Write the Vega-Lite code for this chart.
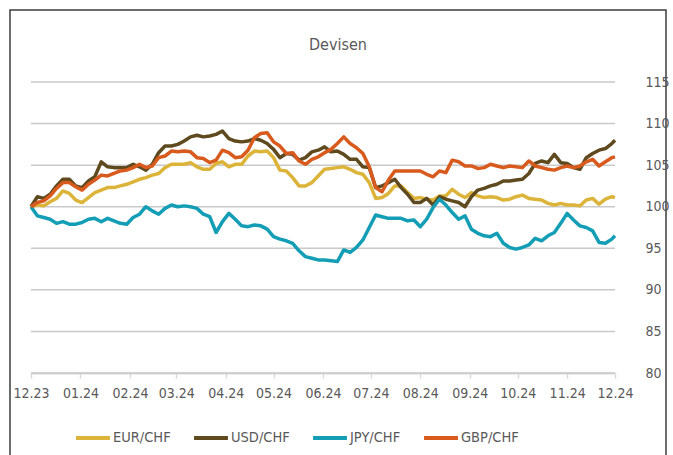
{
  "$schema": "https://vega.github.io/schema/vega-lite/v6.json",
  "width": 656,
  "height": 460,
  "autosize": {"type": "none"},
  "padding": {"left": 10, "top": 10, "right": 7, "bottom": 0},
  "background": "white",
  "config": {
    "font": "DejaVu Sans Condensed, DejaVu Sans, sans-serif",
    "view": {"stroke": "#3c3c3c", "strokeWidth": 1.5}
  },
  "title": {"text": "Devisen", "fontSize": 16, "fontWeight": "normal", "color": "#595959", "anchor": "middle", "baseline": "alphabetic", "offset": -56},
  "datasets": {
    "grid": [{"g":80},{"g":85},{"g":90},{"g":95},{"g":100},{"g":105},{"g":110},{"g":115}],
    "fx": [
{"d":"2023-12-01","s":"EUR/CHF","v":100.0},{"d":"2023-12-05","s":"EUR/CHF","v":100.2},{"d":"2023-12-09","s":"EUR/CHF","v":100.1},{"d":"2023-12-13","s":"EUR/CHF","v":100.6},{"d":"2023-12-17","s":"EUR/CHF","v":101.0},{"d":"2023-12-21","s":"EUR/CHF","v":101.9},{"d":"2023-12-25","s":"EUR/CHF","v":101.6},{"d":"2023-12-29","s":"EUR/CHF","v":100.8},{"d":"2024-01-02","s":"EUR/CHF","v":100.5},{"d":"2024-01-06","s":"EUR/CHF","v":101.1},
{"d":"2024-01-10","s":"EUR/CHF","v":101.7},{"d":"2024-01-14","s":"EUR/CHF","v":102.0},{"d":"2024-01-18","s":"EUR/CHF","v":102.3},{"d":"2024-01-22","s":"EUR/CHF","v":102.3},{"d":"2024-01-26","s":"EUR/CHF","v":102.5},{"d":"2024-01-30","s":"EUR/CHF","v":102.7},{"d":"2024-02-03","s":"EUR/CHF","v":103.0},{"d":"2024-02-07","s":"EUR/CHF","v":103.3},{"d":"2024-02-11","s":"EUR/CHF","v":103.5},{"d":"2024-02-15","s":"EUR/CHF","v":103.8},
{"d":"2024-02-19","s":"EUR/CHF","v":104.0},{"d":"2024-02-23","s":"EUR/CHF","v":104.7},{"d":"2024-02-27","s":"EUR/CHF","v":105.1},{"d":"2024-03-02","s":"EUR/CHF","v":105.1},{"d":"2024-03-06","s":"EUR/CHF","v":105.1},{"d":"2024-03-10","s":"EUR/CHF","v":105.3},{"d":"2024-03-14","s":"EUR/CHF","v":104.8},{"d":"2024-03-18","s":"EUR/CHF","v":104.5},{"d":"2024-03-22","s":"EUR/CHF","v":104.5},{"d":"2024-03-26","s":"EUR/CHF","v":105.2},
{"d":"2024-03-30","s":"EUR/CHF","v":105.4},{"d":"2024-04-03","s":"EUR/CHF","v":104.8},{"d":"2024-04-07","s":"EUR/CHF","v":105.1},{"d":"2024-04-11","s":"EUR/CHF","v":105.1},{"d":"2024-04-15","s":"EUR/CHF","v":106.1},{"d":"2024-04-19","s":"EUR/CHF","v":106.7},{"d":"2024-04-23","s":"EUR/CHF","v":106.6},{"d":"2024-04-27","s":"EUR/CHF","v":106.7},{"d":"2024-05-01","s":"EUR/CHF","v":105.9},{"d":"2024-05-05","s":"EUR/CHF","v":104.4},
{"d":"2024-05-09","s":"EUR/CHF","v":104.3},{"d":"2024-05-13","s":"EUR/CHF","v":103.5},{"d":"2024-05-17","s":"EUR/CHF","v":102.5},{"d":"2024-05-21","s":"EUR/CHF","v":102.5},{"d":"2024-05-25","s":"EUR/CHF","v":102.9},{"d":"2024-05-29","s":"EUR/CHF","v":103.7},{"d":"2024-06-02","s":"EUR/CHF","v":104.5},{"d":"2024-06-06","s":"EUR/CHF","v":104.6},{"d":"2024-06-10","s":"EUR/CHF","v":104.7},{"d":"2024-06-14","s":"EUR/CHF","v":104.8},
{"d":"2024-06-18","s":"EUR/CHF","v":104.5},{"d":"2024-06-22","s":"EUR/CHF","v":104.1},{"d":"2024-06-26","s":"EUR/CHF","v":103.9},{"d":"2024-06-30","s":"EUR/CHF","v":102.9},{"d":"2024-07-04","s":"EUR/CHF","v":101.0},{"d":"2024-07-08","s":"EUR/CHF","v":101.1},{"d":"2024-07-12","s":"EUR/CHF","v":101.6},{"d":"2024-07-16","s":"EUR/CHF","v":102.5},{"d":"2024-07-20","s":"EUR/CHF","v":102.5},{"d":"2024-07-24","s":"EUR/CHF","v":101.7},
{"d":"2024-07-28","s":"EUR/CHF","v":101.0},{"d":"2024-08-01","s":"EUR/CHF","v":101.1},{"d":"2024-08-05","s":"EUR/CHF","v":100.9},{"d":"2024-08-09","s":"EUR/CHF","v":100.8},{"d":"2024-08-13","s":"EUR/CHF","v":101.3},{"d":"2024-08-17","s":"EUR/CHF","v":101.3},{"d":"2024-08-21","s":"EUR/CHF","v":102.1},{"d":"2024-08-25","s":"EUR/CHF","v":101.5},{"d":"2024-08-29","s":"EUR/CHF","v":101.1},{"d":"2024-09-02","s":"EUR/CHF","v":101.7},
{"d":"2024-09-06","s":"EUR/CHF","v":101.3},{"d":"2024-09-10","s":"EUR/CHF","v":101.1},{"d":"2024-09-14","s":"EUR/CHF","v":101.2},{"d":"2024-09-18","s":"EUR/CHF","v":101.1},{"d":"2024-09-22","s":"EUR/CHF","v":100.8},{"d":"2024-09-26","s":"EUR/CHF","v":100.9},{"d":"2024-09-30","s":"EUR/CHF","v":101.2},{"d":"2024-10-04","s":"EUR/CHF","v":101.4},{"d":"2024-10-08","s":"EUR/CHF","v":101.0},{"d":"2024-10-12","s":"EUR/CHF","v":100.9},
{"d":"2024-10-16","s":"EUR/CHF","v":100.8},{"d":"2024-10-20","s":"EUR/CHF","v":100.4},{"d":"2024-10-24","s":"EUR/CHF","v":100.2},{"d":"2024-10-28","s":"EUR/CHF","v":100.4},{"d":"2024-11-01","s":"EUR/CHF","v":100.2},{"d":"2024-11-05","s":"EUR/CHF","v":100.2},{"d":"2024-11-09","s":"EUR/CHF","v":100.1},{"d":"2024-11-13","s":"EUR/CHF","v":100.8},{"d":"2024-11-17","s":"EUR/CHF","v":101.0},{"d":"2024-11-21","s":"EUR/CHF","v":100.3},
{"d":"2024-11-25","s":"EUR/CHF","v":100.9},{"d":"2024-11-29","s":"EUR/CHF","v":101.2},{"d":"2024-12-01","s":"EUR/CHF","v":101.1},
{"d":"2023-12-01","s":"USD/CHF","v":100.0},{"d":"2023-12-05","s":"USD/CHF","v":101.2},{"d":"2023-12-09","s":"USD/CHF","v":101.0},{"d":"2023-12-13","s":"USD/CHF","v":101.5},{"d":"2023-12-17","s":"USD/CHF","v":102.5},{"d":"2023-12-21","s":"USD/CHF","v":103.3},{"d":"2023-12-25","s":"USD/CHF","v":103.3},{"d":"2023-12-29","s":"USD/CHF","v":102.5},{"d":"2024-01-02","s":"USD/CHF","v":102.3},{"d":"2024-01-06","s":"USD/CHF","v":103.1},
{"d":"2024-01-10","s":"USD/CHF","v":103.6},{"d":"2024-01-14","s":"USD/CHF","v":105.4},{"d":"2024-01-18","s":"USD/CHF","v":104.8},{"d":"2024-01-22","s":"USD/CHF","v":104.7},{"d":"2024-01-26","s":"USD/CHF","v":104.7},{"d":"2024-01-30","s":"USD/CHF","v":104.7},{"d":"2024-02-03","s":"USD/CHF","v":105.1},{"d":"2024-02-07","s":"USD/CHF","v":104.8},{"d":"2024-02-11","s":"USD/CHF","v":104.4},{"d":"2024-02-15","s":"USD/CHF","v":105.1},
{"d":"2024-02-19","s":"USD/CHF","v":106.5},{"d":"2024-02-23","s":"USD/CHF","v":107.3},{"d":"2024-02-27","s":"USD/CHF","v":107.3},{"d":"2024-03-02","s":"USD/CHF","v":107.5},{"d":"2024-03-06","s":"USD/CHF","v":107.9},{"d":"2024-03-10","s":"USD/CHF","v":108.4},{"d":"2024-03-14","s":"USD/CHF","v":108.6},{"d":"2024-03-18","s":"USD/CHF","v":108.4},{"d":"2024-03-22","s":"USD/CHF","v":108.5},{"d":"2024-03-26","s":"USD/CHF","v":108.7},
{"d":"2024-03-30","s":"USD/CHF","v":109.1},{"d":"2024-04-03","s":"USD/CHF","v":108.2},{"d":"2024-04-07","s":"USD/CHF","v":107.9},{"d":"2024-04-11","s":"USD/CHF","v":107.8},{"d":"2024-04-15","s":"USD/CHF","v":107.9},{"d":"2024-04-19","s":"USD/CHF","v":108.2},{"d":"2024-04-23","s":"USD/CHF","v":108.0},{"d":"2024-04-27","s":"USD/CHF","v":107.6},{"d":"2024-05-01","s":"USD/CHF","v":106.9},{"d":"2024-05-05","s":"USD/CHF","v":105.9},
{"d":"2024-05-09","s":"USD/CHF","v":106.4},{"d":"2024-05-13","s":"USD/CHF","v":106.3},{"d":"2024-05-17","s":"USD/CHF","v":105.6},{"d":"2024-05-21","s":"USD/CHF","v":105.9},{"d":"2024-05-25","s":"USD/CHF","v":106.6},{"d":"2024-05-29","s":"USD/CHF","v":106.8},{"d":"2024-06-02","s":"USD/CHF","v":107.2},{"d":"2024-06-06","s":"USD/CHF","v":106.6},{"d":"2024-06-10","s":"USD/CHF","v":106.7},{"d":"2024-06-14","s":"USD/CHF","v":106.3},
{"d":"2024-06-18","s":"USD/CHF","v":105.7},{"d":"2024-06-22","s":"USD/CHF","v":105.7},{"d":"2024-06-26","s":"USD/CHF","v":104.8},{"d":"2024-06-30","s":"USD/CHF","v":104.7},{"d":"2024-07-04","s":"USD/CHF","v":102.3},{"d":"2024-07-08","s":"USD/CHF","v":102.5},{"d":"2024-07-12","s":"USD/CHF","v":102.9},{"d":"2024-07-16","s":"USD/CHF","v":103.3},{"d":"2024-07-20","s":"USD/CHF","v":102.3},{"d":"2024-07-24","s":"USD/CHF","v":101.5},
{"d":"2024-07-28","s":"USD/CHF","v":100.5},{"d":"2024-08-01","s":"USD/CHF","v":100.5},{"d":"2024-08-05","s":"USD/CHF","v":101.0},{"d":"2024-08-09","s":"USD/CHF","v":100.2},{"d":"2024-08-13","s":"USD/CHF","v":101.2},{"d":"2024-08-17","s":"USD/CHF","v":100.9},{"d":"2024-08-21","s":"USD/CHF","v":100.7},{"d":"2024-08-25","s":"USD/CHF","v":100.5},{"d":"2024-08-29","s":"USD/CHF","v":100.0},{"d":"2024-09-02","s":"USD/CHF","v":101.2},
{"d":"2024-09-06","s":"USD/CHF","v":102.0},{"d":"2024-09-10","s":"USD/CHF","v":102.2},{"d":"2024-09-14","s":"USD/CHF","v":102.5},{"d":"2024-09-18","s":"USD/CHF","v":102.7},{"d":"2024-09-22","s":"USD/CHF","v":103.1},{"d":"2024-09-26","s":"USD/CHF","v":103.1},{"d":"2024-09-30","s":"USD/CHF","v":103.2},{"d":"2024-10-04","s":"USD/CHF","v":103.3},{"d":"2024-10-08","s":"USD/CHF","v":104.0},{"d":"2024-10-12","s":"USD/CHF","v":105.2},
{"d":"2024-10-16","s":"USD/CHF","v":105.5},{"d":"2024-10-20","s":"USD/CHF","v":105.3},{"d":"2024-10-24","s":"USD/CHF","v":106.3},{"d":"2024-10-28","s":"USD/CHF","v":105.3},{"d":"2024-11-01","s":"USD/CHF","v":105.2},{"d":"2024-11-05","s":"USD/CHF","v":104.7},{"d":"2024-11-09","s":"USD/CHF","v":104.5},{"d":"2024-11-13","s":"USD/CHF","v":105.9},{"d":"2024-11-17","s":"USD/CHF","v":106.4},{"d":"2024-11-21","s":"USD/CHF","v":106.8},
{"d":"2024-11-25","s":"USD/CHF","v":107.0},{"d":"2024-11-29","s":"USD/CHF","v":107.6},{"d":"2024-12-01","s":"USD/CHF","v":108.0},
{"d":"2023-12-01","s":"JPY/CHF","v":100.0},{"d":"2023-12-05","s":"JPY/CHF","v":98.9},{"d":"2023-12-09","s":"JPY/CHF","v":98.7},{"d":"2023-12-13","s":"JPY/CHF","v":98.5},{"d":"2023-12-17","s":"JPY/CHF","v":98.0},{"d":"2023-12-21","s":"JPY/CHF","v":98.2},{"d":"2023-12-25","s":"JPY/CHF","v":97.9},{"d":"2023-12-29","s":"JPY/CHF","v":97.9},{"d":"2024-01-02","s":"JPY/CHF","v":98.1},{"d":"2024-01-06","s":"JPY/CHF","v":98.5},
{"d":"2024-01-10","s":"JPY/CHF","v":98.6},{"d":"2024-01-14","s":"JPY/CHF","v":98.2},{"d":"2024-01-18","s":"JPY/CHF","v":98.6},{"d":"2024-01-22","s":"JPY/CHF","v":98.3},{"d":"2024-01-26","s":"JPY/CHF","v":98.0},{"d":"2024-01-30","s":"JPY/CHF","v":97.9},{"d":"2024-02-03","s":"JPY/CHF","v":98.7},{"d":"2024-02-07","s":"JPY/CHF","v":99.1},{"d":"2024-02-11","s":"JPY/CHF","v":100.0},{"d":"2024-02-15","s":"JPY/CHF","v":99.5},
{"d":"2024-02-19","s":"JPY/CHF","v":99.1},{"d":"2024-02-23","s":"JPY/CHF","v":99.8},{"d":"2024-02-27","s":"JPY/CHF","v":100.2},{"d":"2024-03-02","s":"JPY/CHF","v":100.0},{"d":"2024-03-06","s":"JPY/CHF","v":100.1},{"d":"2024-03-10","s":"JPY/CHF","v":100.0},{"d":"2024-03-14","s":"JPY/CHF","v":99.8},{"d":"2024-03-18","s":"JPY/CHF","v":99.1},{"d":"2024-03-22","s":"JPY/CHF","v":98.8},{"d":"2024-03-26","s":"JPY/CHF","v":96.9},
{"d":"2024-03-30","s":"JPY/CHF","v":98.2},{"d":"2024-04-03","s":"JPY/CHF","v":99.2},{"d":"2024-04-07","s":"JPY/CHF","v":98.5},{"d":"2024-04-11","s":"JPY/CHF","v":97.7},{"d":"2024-04-15","s":"JPY/CHF","v":97.6},{"d":"2024-04-19","s":"JPY/CHF","v":97.8},{"d":"2024-04-23","s":"JPY/CHF","v":97.7},{"d":"2024-04-27","s":"JPY/CHF","v":97.3},{"d":"2024-05-01","s":"JPY/CHF","v":96.4},{"d":"2024-05-05","s":"JPY/CHF","v":96.1},
{"d":"2024-05-09","s":"JPY/CHF","v":95.9},{"d":"2024-05-13","s":"JPY/CHF","v":95.6},{"d":"2024-05-17","s":"JPY/CHF","v":94.7},{"d":"2024-05-21","s":"JPY/CHF","v":94.0},{"d":"2024-05-25","s":"JPY/CHF","v":93.8},{"d":"2024-05-29","s":"JPY/CHF","v":93.6},{"d":"2024-06-02","s":"JPY/CHF","v":93.6},{"d":"2024-06-06","s":"JPY/CHF","v":93.5},{"d":"2024-06-10","s":"JPY/CHF","v":93.4},{"d":"2024-06-14","s":"JPY/CHF","v":94.8},
{"d":"2024-06-18","s":"JPY/CHF","v":94.5},{"d":"2024-06-22","s":"JPY/CHF","v":95.1},{"d":"2024-06-26","s":"JPY/CHF","v":96.0},{"d":"2024-06-30","s":"JPY/CHF","v":97.5},{"d":"2024-07-04","s":"JPY/CHF","v":99.0},{"d":"2024-07-08","s":"JPY/CHF","v":98.8},{"d":"2024-07-12","s":"JPY/CHF","v":98.6},{"d":"2024-07-16","s":"JPY/CHF","v":98.6},{"d":"2024-07-20","s":"JPY/CHF","v":98.6},{"d":"2024-07-24","s":"JPY/CHF","v":98.3},
{"d":"2024-07-28","s":"JPY/CHF","v":98.4},{"d":"2024-08-01","s":"JPY/CHF","v":97.6},{"d":"2024-08-05","s":"JPY/CHF","v":98.5},{"d":"2024-08-09","s":"JPY/CHF","v":99.9},{"d":"2024-08-13","s":"JPY/CHF","v":100.9},{"d":"2024-08-17","s":"JPY/CHF","v":100.2},{"d":"2024-08-21","s":"JPY/CHF","v":99.3},{"d":"2024-08-25","s":"JPY/CHF","v":98.5},{"d":"2024-08-29","s":"JPY/CHF","v":98.9},{"d":"2024-09-02","s":"JPY/CHF","v":97.3},
{"d":"2024-09-06","s":"JPY/CHF","v":96.8},{"d":"2024-09-10","s":"JPY/CHF","v":96.5},{"d":"2024-09-14","s":"JPY/CHF","v":96.4},{"d":"2024-09-18","s":"JPY/CHF","v":96.8},{"d":"2024-09-22","s":"JPY/CHF","v":95.6},{"d":"2024-09-26","s":"JPY/CHF","v":95.1},{"d":"2024-09-30","s":"JPY/CHF","v":94.9},{"d":"2024-10-04","s":"JPY/CHF","v":95.1},{"d":"2024-10-08","s":"JPY/CHF","v":95.4},{"d":"2024-10-12","s":"JPY/CHF","v":96.2},
{"d":"2024-10-16","s":"JPY/CHF","v":95.9},{"d":"2024-10-20","s":"JPY/CHF","v":96.5},{"d":"2024-10-24","s":"JPY/CHF","v":96.9},{"d":"2024-10-28","s":"JPY/CHF","v":98.0},{"d":"2024-11-01","s":"JPY/CHF","v":99.2},{"d":"2024-11-05","s":"JPY/CHF","v":98.4},{"d":"2024-11-09","s":"JPY/CHF","v":97.7},{"d":"2024-11-13","s":"JPY/CHF","v":97.5},{"d":"2024-11-17","s":"JPY/CHF","v":97.1},{"d":"2024-11-21","s":"JPY/CHF","v":95.7},
{"d":"2024-11-25","s":"JPY/CHF","v":95.6},{"d":"2024-11-29","s":"JPY/CHF","v":96.1},{"d":"2024-12-01","s":"JPY/CHF","v":96.5},
{"d":"2023-12-01","s":"GBP/CHF","v":100.0},{"d":"2023-12-05","s":"GBP/CHF","v":100.5},{"d":"2023-12-09","s":"GBP/CHF","v":100.7},{"d":"2023-12-13","s":"GBP/CHF","v":101.3},{"d":"2023-12-17","s":"GBP/CHF","v":102.2},{"d":"2023-12-21","s":"GBP/CHF","v":102.9},{"d":"2023-12-25","s":"GBP/CHF","v":102.9},{"d":"2023-12-29","s":"GBP/CHF","v":102.4},{"d":"2024-01-02","s":"GBP/CHF","v":102.0},{"d":"2024-01-06","s":"GBP/CHF","v":102.7},
{"d":"2024-01-10","s":"GBP/CHF","v":103.2},{"d":"2024-01-14","s":"GBP/CHF","v":103.8},{"d":"2024-01-18","s":"GBP/CHF","v":103.7},{"d":"2024-01-22","s":"GBP/CHF","v":104.0},{"d":"2024-01-26","s":"GBP/CHF","v":104.3},{"d":"2024-01-30","s":"GBP/CHF","v":104.4},{"d":"2024-02-03","s":"GBP/CHF","v":104.7},{"d":"2024-02-07","s":"GBP/CHF","v":105.1},{"d":"2024-02-11","s":"GBP/CHF","v":104.7},{"d":"2024-02-15","s":"GBP/CHF","v":104.9},
{"d":"2024-02-19","s":"GBP/CHF","v":105.9},{"d":"2024-02-23","s":"GBP/CHF","v":106.1},{"d":"2024-02-27","s":"GBP/CHF","v":106.7},{"d":"2024-03-02","s":"GBP/CHF","v":106.6},{"d":"2024-03-06","s":"GBP/CHF","v":106.7},{"d":"2024-03-10","s":"GBP/CHF","v":106.6},{"d":"2024-03-14","s":"GBP/CHF","v":105.9},{"d":"2024-03-18","s":"GBP/CHF","v":105.8},{"d":"2024-03-22","s":"GBP/CHF","v":105.3},{"d":"2024-03-26","s":"GBP/CHF","v":105.6},
{"d":"2024-03-30","s":"GBP/CHF","v":106.8},{"d":"2024-04-03","s":"GBP/CHF","v":106.5},{"d":"2024-04-07","s":"GBP/CHF","v":105.9},{"d":"2024-04-11","s":"GBP/CHF","v":106.0},{"d":"2024-04-15","s":"GBP/CHF","v":106.8},{"d":"2024-04-19","s":"GBP/CHF","v":108.3},{"d":"2024-04-23","s":"GBP/CHF","v":108.8},{"d":"2024-04-27","s":"GBP/CHF","v":108.9},{"d":"2024-05-01","s":"GBP/CHF","v":107.8},{"d":"2024-05-05","s":"GBP/CHF","v":107.3},
{"d":"2024-05-09","s":"GBP/CHF","v":106.4},{"d":"2024-05-13","s":"GBP/CHF","v":106.5},{"d":"2024-05-17","s":"GBP/CHF","v":105.5},{"d":"2024-05-21","s":"GBP/CHF","v":105.1},{"d":"2024-05-25","s":"GBP/CHF","v":105.7},{"d":"2024-05-29","s":"GBP/CHF","v":106.0},{"d":"2024-06-02","s":"GBP/CHF","v":106.5},{"d":"2024-06-06","s":"GBP/CHF","v":106.9},{"d":"2024-06-10","s":"GBP/CHF","v":107.6},{"d":"2024-06-14","s":"GBP/CHF","v":108.4},
{"d":"2024-06-18","s":"GBP/CHF","v":107.6},{"d":"2024-06-22","s":"GBP/CHF","v":107.1},{"d":"2024-06-26","s":"GBP/CHF","v":106.4},{"d":"2024-06-30","s":"GBP/CHF","v":104.8},{"d":"2024-07-04","s":"GBP/CHF","v":102.3},{"d":"2024-07-08","s":"GBP/CHF","v":101.8},{"d":"2024-07-12","s":"GBP/CHF","v":103.2},{"d":"2024-07-16","s":"GBP/CHF","v":104.3},{"d":"2024-07-20","s":"GBP/CHF","v":104.3},{"d":"2024-07-24","s":"GBP/CHF","v":104.3},
{"d":"2024-07-28","s":"GBP/CHF","v":104.3},{"d":"2024-08-01","s":"GBP/CHF","v":104.3},{"d":"2024-08-05","s":"GBP/CHF","v":103.9},{"d":"2024-08-09","s":"GBP/CHF","v":103.6},{"d":"2024-08-13","s":"GBP/CHF","v":104.3},{"d":"2024-08-17","s":"GBP/CHF","v":104.1},{"d":"2024-08-21","s":"GBP/CHF","v":105.6},{"d":"2024-08-25","s":"GBP/CHF","v":105.4},{"d":"2024-08-29","s":"GBP/CHF","v":104.9},{"d":"2024-09-02","s":"GBP/CHF","v":104.9},
{"d":"2024-09-06","s":"GBP/CHF","v":104.6},{"d":"2024-09-10","s":"GBP/CHF","v":104.7},{"d":"2024-09-14","s":"GBP/CHF","v":105.1},{"d":"2024-09-18","s":"GBP/CHF","v":104.9},{"d":"2024-09-22","s":"GBP/CHF","v":104.7},{"d":"2024-09-26","s":"GBP/CHF","v":104.9},{"d":"2024-09-30","s":"GBP/CHF","v":104.8},{"d":"2024-10-04","s":"GBP/CHF","v":104.7},{"d":"2024-10-08","s":"GBP/CHF","v":105.5},{"d":"2024-10-12","s":"GBP/CHF","v":104.9},
{"d":"2024-10-16","s":"GBP/CHF","v":104.7},{"d":"2024-10-20","s":"GBP/CHF","v":104.5},{"d":"2024-10-24","s":"GBP/CHF","v":104.4},{"d":"2024-10-28","s":"GBP/CHF","v":104.7},{"d":"2024-11-01","s":"GBP/CHF","v":104.9},{"d":"2024-11-05","s":"GBP/CHF","v":104.7},{"d":"2024-11-09","s":"GBP/CHF","v":104.9},{"d":"2024-11-13","s":"GBP/CHF","v":105.4},{"d":"2024-11-17","s":"GBP/CHF","v":105.7},{"d":"2024-11-21","s":"GBP/CHF","v":104.9},
{"d":"2024-11-25","s":"GBP/CHF","v":105.4},{"d":"2024-11-29","s":"GBP/CHF","v":105.9},{"d":"2024-12-01","s":"GBP/CHF","v":106.0}
    ]
  },
  "layer": [
    {
      "data": {"name": "grid"},
      "mark": {"type": "rule", "color": "#C9C9C9", "strokeWidth": 1.5},
      "encoding": {
        "y": {"field": "g", "type": "quantitative"},
        "x": {"datum": {"year": 2023, "month": 12, "date": 1, "utc": true}, "type": "temporal"},
        "x2": {"datum": {"year": 2024, "month": 12, "date": 1, "utc": true}}
      }
    },
    {
      "data": {"name": "fx"},
      "mark": {"type": "line", "strokeWidth": 3.5, "strokeJoin": "round"},
      "encoding": {
        "x": {"field": "d", "type": "temporal"},
        "y": {"field": "v", "type": "quantitative"},
        "color": {
          "field": "s", "type": "nominal",
          "scale": {"domain": ["EUR/CHF", "USD/CHF", "JPY/CHF", "GBP/CHF"], "range": ["#DDB43A", "#5F4A1F", "#139EB6", "#D85A1C"]},
          "legend": {"title": null, "orient": "none", "legendX": 64, "legendY": 409, "direction": "horizontal", "columns": 4, "symbolType": "stroke", "symbolSize": 1150, "symbolStrokeWidth": 4, "labelFontSize": 14.5, "labelColor": "#595959", "labelOffset": 1, "columnPadding": 15, "padding": 0}
        }
      }
    }
  ],
  "encoding": {
    "x": {
      "type": "temporal",
      "scale": {"type": "utc", "domain": [{"year": 2023, "month": 12, "date": 1, "utc": true}, {"year": 2024, "month": 12, "date": 1, "utc": true}], "range": [21, 605], "nice": false},
      "axis": {"title": null, "format": "%m.%y", "tickCount": {"interval": "month", "step": 1}, "offset": -97, "grid": false, "domainColor": "#D9D9D9", "domainWidth": 2, "tickColor": "#D9D9D9", "tickWidth": 1.5, "tickSize": 5, "labelFontSize": 14, "labelColor": "#595959", "labelPadding": 8, "labelFlush": false, "labelOverlap": false, "labelBound": false}
    },
    "y": {
      "type": "quantitative",
      "scale": {"domain": [80, 115], "range": [363, 72], "nice": false, "zero": false},
      "axis": {"title": null, "orient": "right", "values": [80, 85, 90, 95, 100, 105, 110, 115], "offset": 0, "domain": false, "ticks": false, "tickSize": 0, "labelPadding": -21, "labelAlign": "left", "labelFontSize": 14, "labelColor": "#595959", "grid": false}
    }
  }
}
